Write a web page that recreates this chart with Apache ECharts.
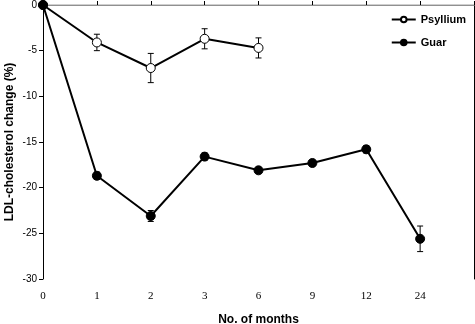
<!DOCTYPE html>
<html><head><meta charset="utf-8">
<script src="https://cdn.jsdelivr.net/npm/echarts@6/dist/echarts.min.js"></script>
<style>html,body{margin:0;padding:0;background:#fff}#c{width:475px;height:324px}</style>
</head><body><div id="c"></div>
<script>
const months = ['0','1','2','3','6','9','12','24',''];
const psylliumVals = [0, -4.1, -6.9, -3.7, -4.7];
const psylliumErr  = [0, 0.9, 1.6, 1.1, 1.1];
const guarVals = [0, -18.7, -23.1, -16.6, -18.1, -17.3, -15.8, -25.6];
const guarErr  = [0, 0.4, 0.6, 0.4, 0.35, 0.3, 0.4, 1.4];
const yTicks = {min: -30, max: 0, interval: 5};
const yTitle = 'LDL-cholesterol change (%)';
const xTitle = 'No. of months';

function errData(vals, errs){ return vals.map((v,i)=>[i, v, errs[i]]); }
function errRender(params, api){
  const x = api.value(0), v = api.value(1), e = api.value(2);
  if (!e) return null;
  const hi = api.coord([x, v + e]), lo = api.coord([x, v - e]);
  const cap = 3;
  const st = {stroke:'#000', lineWidth:1};
  return {type:'group', children:[
    {type:'line', shape:{x1:hi[0],y1:hi[1],x2:lo[0],y2:lo[1]}, style:st},
    {type:'line', shape:{x1:hi[0]-cap,y1:hi[1],x2:hi[0]+cap,y2:hi[1]}, style:st},
    {type:'line', shape:{x1:lo[0]-cap,y1:lo[1],x2:lo[0]+cap,y2:lo[1]}, style:st}
  ]};
}

const chart = echarts.init(document.getElementById('c'), null, {renderer:'canvas'});
chart.setOption({
  animation:false,
  backgroundColor:'#fff',
  grid:{left:43, right:1, top:5, bottom:45, containLabel:false, outerBoundsMode:'none'},
  graphic:[{
    type:'text', x:10, y:142, rotation:Math.PI/2,
    style:{text:yTitle, fill:'#000', font:'bold 12px "Liberation Sans", Arial', textAlign:'center', textVerticalAlign:'middle'}
  }],
  legend:{
    right:4, top:9, orient:'vertical', itemGap:12, itemWidth:24, itemHeight:7,
    textStyle:{fontFamily:'Liberation Sans, Arial', fontWeight:'bold', fontSize:11, color:'#000'},
    data:['Psyllium','Guar']
  },
  xAxis:[{
    type:'category', data:months, boundaryGap:false,
    name:xTitle, nameLocation:'middle', nameGap:35,
    nameTextStyle:{fontFamily:'Liberation Sans, Arial', fontWeight:'bold', fontSize:12, color:'#000'},
    axisLine:{lineStyle:{color:'#000', width:1}},
    axisTick:{inside:true, length:4, lineStyle:{color:'#000'}},
    axisLabel:{fontFamily:'Liberation Serif, Times New Roman', fontSize:11, color:'#000', margin:12, interval:0},
    splitLine:{show:false}
  },{
    type:'category', data:months, boundaryGap:false, position:'top',
    axisLine:{show:true, lineStyle:{color:'#c0c0c0', width:1.5}},
    axisTick:{show:false}, axisLabel:{show:false}, splitLine:{show:false}
  }],
  yAxis:[{
    type:'value', min:yTicks.min, max:yTicks.max, interval:yTicks.interval,
    axisLine:{show:true, lineStyle:{color:'#000', width:1}},
    axisTick:{show:true, length:4, lineStyle:{color:'#000'}},
    axisLabel:{fontFamily:'Liberation Sans, Arial', fontSize:10, color:'#000', margin:6},
    splitLine:{show:false}
  },{
    type:'value', min:yTicks.min, max:yTicks.max, interval:yTicks.interval, position:'right',
    axisLine:{show:true, lineStyle:{color:'#000', width:1}},
    axisTick:{show:false}, axisLabel:{show:false}, splitLine:{show:false}
  }],
  series:[
    {
      name:'Psyllium', type:'line', data:psylliumVals, symbol:'circle', symbolSize:9,
      lineStyle:{color:'#000', width:2}, itemStyle:{color:'#fff', borderColor:'#000', borderWidth:1},
      z:3
    },
    {name:'Psyllium err', type:'custom', renderItem:errRender, data:errData(psylliumVals, psylliumErr), z:2},
    {
      name:'Guar', type:'line', data:guarVals, symbol:'circle', symbolSize:9,
      lineStyle:{color:'#000', width:2}, itemStyle:{color:'#000', borderColor:'#000', borderWidth:1},
      z:4
    },
    {name:'Guar err', type:'custom', renderItem:errRender, data:errData(guarVals, guarErr), z:2}
  ]
});
</script></body></html>
